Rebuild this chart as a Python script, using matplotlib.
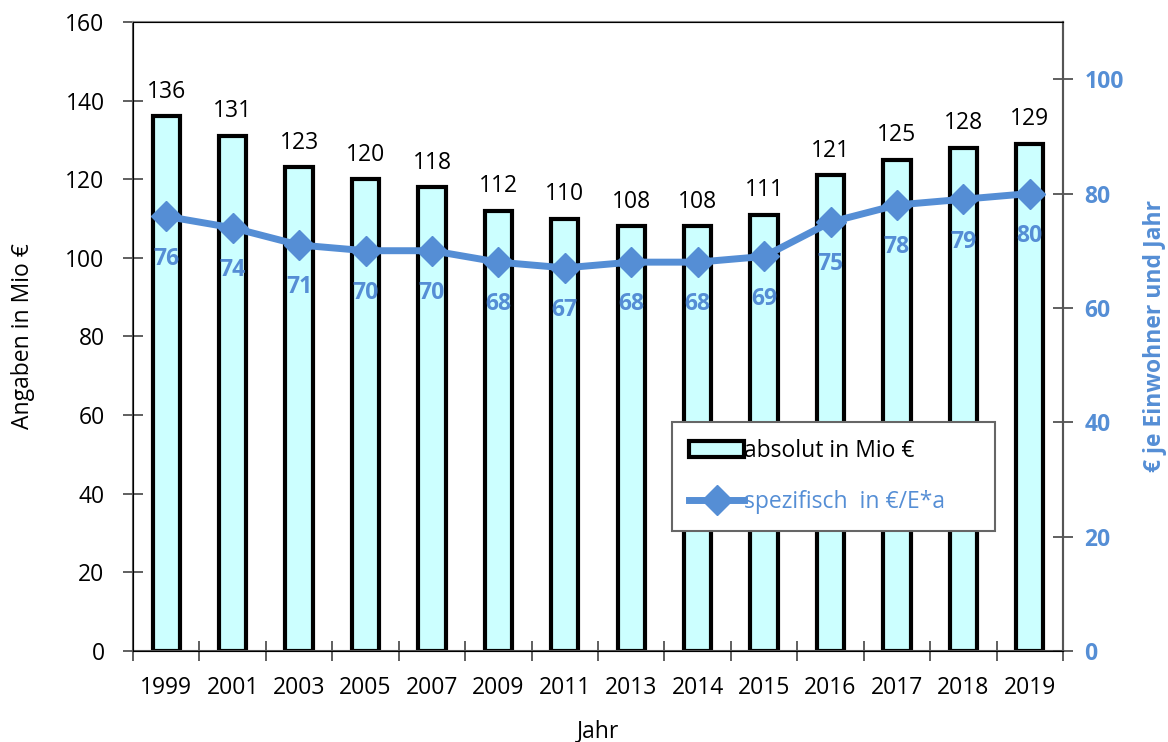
import matplotlib
matplotlib.use("Agg")
import matplotlib.pyplot as plt
import numpy as np

plt.rcParams['font.family'] = ['Open Sans', 'DejaVu Sans']

years = ["1999", "2001", "2003", "2005", "2007", "2009", "2011", "2013",
         "2014", "2015", "2016", "2017", "2018", "2019"]
absolut = [136, 131, 123, 120, 118, 112, 110, 108, 108, 111, 121, 125, 128, 129]
spezifisch = [76, 74, 71, 70, 70, 68, 67, 68, 68, 69, 75, 78, 79, 80]

blue = "#558ED5"
fs = 16.5

fig = plt.figure(figsize=(11.68, 7.42), dpi=100)
ax = fig.add_axes([0.1139, 0.1226, 0.7962, 0.8478])
x = np.arange(len(years))

bars = ax.bar(x, absolut, width=0.41, color="#CCFFFF", edgecolor="black",
              linewidth=3, label="absolut in Mio €", zorder=2)
for xi, v in zip(x, absolut):
    ax.text(xi, v + 3.2, str(v), ha="center", va="bottom", fontsize=fs, color="black")

ax.set_xlim(-0.5, len(years) - 0.5)
ax.set_ylim(0, 160)
ax.set_yticks(np.arange(0, 161, 20))
ax.set_xticks(x)
ax.set_xticklabels(years, fontsize=fs)
ax.set_xticks(np.arange(-0.5, len(years), 1), minor=True)
ax.tick_params(axis="x", which="major", length=0, pad=18)
ax.tick_params(axis="x", which="minor", length=15, direction="inout", width=1.2, color="#444444")
ax.tick_params(axis="y", labelsize=fs, length=15, direction="inout", width=1.2, color="#444444", pad=13)
for s in ["left", "bottom"]:
    ax.spines[s].set_color("#555555")
    ax.spines[s].set_linewidth(1.5)
for s in ["top", "right"]:
    ax.spines[s].set_color("#888888")
    ax.spines[s].set_linewidth(1.5)
ax.set_ylabel("Angaben in Mio €", fontsize=fs, labelpad=22)
ax.set_xlabel("Jahr", fontsize=fs, labelpad=14)

ax2 = ax.twinx()
ax2.set_ylim(0, 110)
ax2.set_yticks(np.arange(0, 101, 20))
line, = ax2.plot(x, spezifisch, color=blue, linewidth=5, marker="D",
                 markersize=15, label="spezifisch  in €/E*a", zorder=3)
for xi, v in zip(x, spezifisch):
    ax2.text(xi, v - 5.3, str(v), ha="center", va="top", fontsize=fs,
             fontweight="bold", color=blue)
ax2.tick_params(axis="y", labelsize=fs, length=15, direction="inout", width=1.2,
                color="#444444", labelcolor=blue, pad=8)
for lab in ax2.get_yticklabels():
    lab.set_fontweight("bold")
ax2.spines["right"].set_color("#555555")
ax2.spines["right"].set_linewidth(1.5)
ax2.set_ylabel("€ je Einwohner und Jahr", fontsize=fs, fontweight="bold",
               color=blue, labelpad=14)

leg = ax2.legend(handles=[bars, line], loc="center left",
                 bbox_to_anchor=(672/1168, 1 - 529/742, (995-672)/1168, (529-424)/742),
                 bbox_transform=fig.transFigure, mode="expand",
                 fontsize=fs, frameon=True, fancybox=False, edgecolor="#666666",
                 framealpha=1, handlelength=2.4, handleheight=0.7,
                 handletextpad=0.0, borderpad=0.75, labelspacing=1.15, borderaxespad=0)
leg.get_frame().set_linewidth(1.5)
leg.get_texts()[1].set_color(blue)
leg.set_zorder(10)

fig.savefig("out.png", dpi=100)
